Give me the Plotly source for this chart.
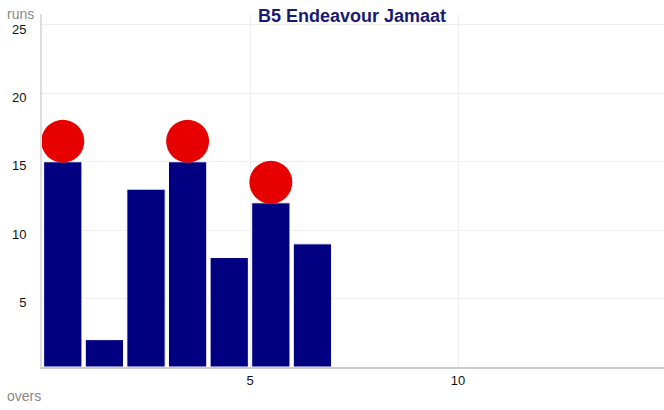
import plotly.graph_objects as go

overs = [1, 2, 3, 4, 5, 6, 7]
runs = [15, 2, 13, 15, 8, 12, 9]
wicket_overs = [1, 4, 6]
wicket_runs = [15, 15, 12]
title = "B5 Endeavour Jamaat"
y_ticks = [5, 10, 15, 20, 25]
x_ticks = [5, 10, 15]

bar_x = [o - 0.5 for o in overs]
wk_x = [o - 0.5 for o in wicket_overs]
wk_y = [r + 1.5 for r in wicket_runs]

L, R, T, B = 42, 0, 14, 43
W, H = 664, 410
PW, PH = W - L - R, H - T - B

fig = go.Figure()
fig.add_trace(go.Bar(x=bar_x, y=runs, width=0.92,
                     marker=dict(color="#000080", line=dict(color="white", width=1)),
                     hoverinfo="skip"))
fig.add_trace(go.Scatter(x=wk_x, y=wk_y, mode="markers",
                         marker=dict(color="#e60000", size=43, line=dict(width=0)),
                         hoverinfo="skip"))

fig.update_layout(
    width=W, height=H,
    margin=dict(l=L, r=R, t=T, b=B, autoexpand=False),
    paper_bgcolor="white", plot_bgcolor="white",
    showlegend=False, hovermode=False,
    font=dict(family="Liberation Sans, Arial, sans-serif", color="#222"),
    title=dict(text="<b>" + title + "</b>", x=352 / W, xanchor="center", y=1 - 16 / H, yanchor="middle",
               font=dict(size=18, color="#1a1a72")),
    xaxis=dict(range=[0, 14.95], tickvals=x_ticks, showgrid=True, gridcolor="#eeeeee",
               zeroline=False, showline=True, linecolor="#cccccc", linewidth=2,
               ticks="", automargin=False, tickfont=dict(size=13, color="#111")),
    yaxis=dict(range=[0, 25.8], tickvals=y_ticks, showgrid=True, gridcolor="#eeeeee",
               zeroline=False, showline=True, linecolor="#dddddd", linewidth=2,
               ticks="", automargin=False, ticklabelstandoff=11, ticklabelshift=4,
               tickfont=dict(size=13, color="#111")),
    bargap=0,
)
fig.add_annotation(text="runs", xref="paper", yref="paper", x=-6 / PW, y=1.0,
                   xanchor="right", yanchor="middle", showarrow=False,
                   font=dict(size=14, color="#888"))
fig.add_annotation(text="overs", xref="paper", yref="paper", x=-(L - 5) / PW, y=-29 / PH,
                   xanchor="left", yanchor="middle", showarrow=False,
                   font=dict(size=14, color="#888"))
fig.write_html("out.html", config={"displayModeBar": False, "staticPlot": True},
               post_script="document.body.style.margin='0';")
